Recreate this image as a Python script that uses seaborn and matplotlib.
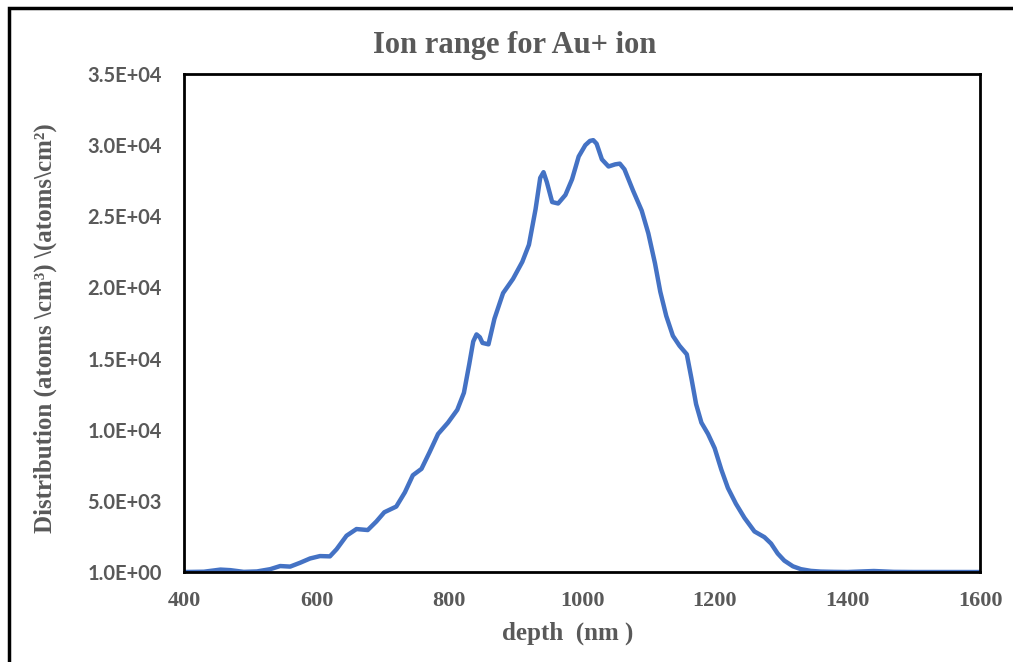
import matplotlib
matplotlib.use("Agg")
import matplotlib.pyplot as plt
import seaborn as sns
import pandas as pd
from matplotlib.patches import Rectangle

depth = [400, 430, 455, 470, 490, 510, 530, 545, 560, 575, 590, 605, 620, 630, 645,
         660, 677, 690, 702, 720, 733, 745, 758, 770, 783, 798, 812, 822, 830, 836, 841,
         846, 850, 859, 868, 881, 896, 910, 920, 930, 937, 942, 947, 955, 964, 975, 985, 995, 1005,
         1012, 1017, 1022, 1030, 1040, 1050, 1057, 1064, 1077, 1090, 1100, 1110, 1118, 1127, 1137,
         1147, 1158, 1165, 1172, 1180, 1190, 1200, 1210, 1220, 1232, 1245, 1260, 1275,
         1285, 1295, 1305, 1318, 1330, 1345, 1360, 1380, 1400, 1440, 1470, 1500, 1600]
distribution = [0, 20, 170, 130, 10, 40, 200, 420, 380, 650, 950, 1120, 1100, 1600, 2550,
                3020, 2950, 3550, 4200, 4600, 5600, 6800, 7250, 8400, 9700, 10500, 11400, 12600, 14600, 16200, 16700,
                16500, 16100, 16000, 17800, 19600, 20600, 21800, 23000, 25500, 27700, 28100, 27400, 26000, 25900, 26500, 27600, 29200, 30000,
                30300, 30350, 30100, 29000, 28500, 28650, 28700, 28300, 26800, 25400, 23800, 21700, 19700, 18000, 16600,
                15900, 15300, 13600, 11800, 10500, 9700, 8700, 7200, 5900, 4800, 3800, 2850, 2450,
                2000, 1300, 800, 400, 200, 80, 30, 10, 0, 70, 10, 0, 0]

x_ticks = [400, 600, 800, 1000, 1200, 1400, 1600]
y_ticks = [1, 5000, 10000, 15000, 20000, 25000, 30000, 35000]
y_tick_labels = ["1.0E+00", "5.0E+03", "1.0E+04", "1.5E+04", "2.0E+04", "2.5E+04", "3.0E+04", "3.5E+04"]

title = "Ion range for Au+ ion"
x_label = "depth  (nm )"
y_label = "Distribution (atoms \\cm\u00b3) \\(atoms\\cm\u00b2)"

sns.set_style("white")
plt.rcParams['font.family'] = ['Liberation Serif', 'DejaVu Serif']

gray = "#595959"
fig = plt.figure(figsize=(10.13, 6.62), dpi=100)
ax = fig.add_axes([184/1013, 1-572/662, (980-184)/1013, (572-74)/662])

df = pd.DataFrame({"depth": depth, "distribution": distribution})
sns.lineplot(data=df, x="depth", y="distribution", ax=ax, color="#4472C4", linewidth=3.2,
             solid_joinstyle="round", solid_capstyle="round")

ax.set_xlim(400, 1600)
ax.set_ylim(1, 35000)
ax.set_xticks(x_ticks)
ax.set_xticklabels([str(t) for t in x_ticks], fontsize=16, fontweight="bold", color=gray,
                   family="Liberation Serif")
ax.set_yticks(y_ticks)
ax.set_yticklabels(y_tick_labels, fontsize=14.5, fontweight="bold", color=gray, family="Lato")
ax.tick_params(axis="both", length=0)
ax.tick_params(axis="x", pad=14)
ax.tick_params(axis="y", pad=16)
ax.set_xlabel("")
ax.set_ylabel("")
for s in ax.spines.values():
    s.set_color("black")
    s.set_linewidth(2)
    s.set_visible(True)

fig.text(515/1013, 1-46/662, title, ha="center", va="center", fontsize=22, fontweight="bold", color=gray)
fig.text(568/1013, 1-633/662, x_label, ha="center", va="center", fontsize=18, fontweight="bold", color=gray)
fig.text(45/1013, 1-328/662, y_label, ha="center", va="center", rotation=90, fontsize=18,
         fontweight="bold", color=gray)

fig.patches.append(Rectangle((9/1013, -0.1), 1.2, 1-8/662+0.1, transform=fig.transFigure,
                             fill=False, edgecolor="black", linewidth=2.5))

fig.savefig("out.png", dpi=100)
